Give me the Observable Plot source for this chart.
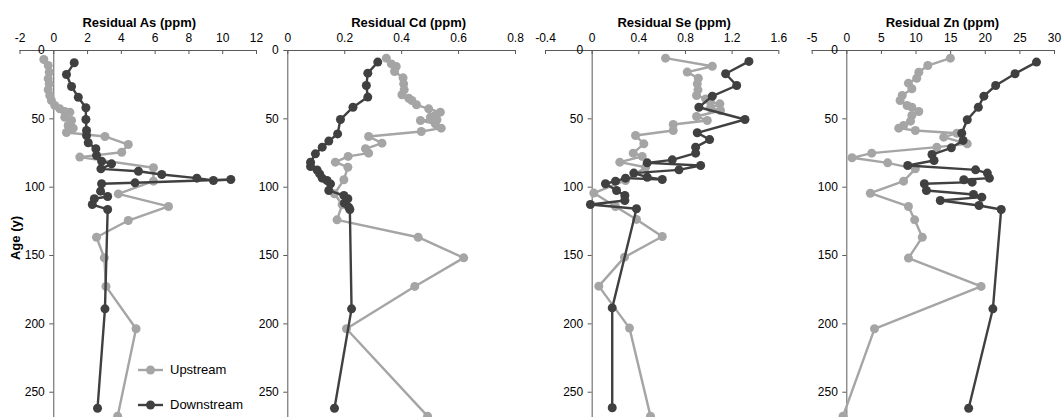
<!DOCTYPE html>
<html><head><meta charset="utf-8">
<script src="https://cdn.jsdelivr.net/npm/d3@7"></script>
<script src="https://cdn.jsdelivr.net/npm/@observablehq/plot@0.6"></script>
<style>
body{margin:0;background:#fff;}
#chart{position:relative;width:1061px;height:417px;overflow:hidden;font-family:"Liberation Sans",Arial,sans-serif;}
#chart svg.panel{position:absolute;left:0;top:0;}
.legend{position:absolute;left:138px;top:352px;font-size:13px;color:#000;}
.legend .row{display:flex;align-items:center;height:35px;}
.legend svg{margin-right:7px;}
</style></head><body><div id="chart"></div>
<script>
// ---- data ----
const ageTicks = [0, 50, 100, 150, 200, 250];
const asTicks = [-2, 0, 2, 4, 6, 8, 10, 12];
const cdTicks = [0, 0.2, 0.4, 0.6, 0.8];
const seTicks = [-0.4, 0, 0.4, 0.8, 1.2, 1.6];
const znTicks = [-5, 0, 5, 10, 15, 20, 25, 30];

const asUpAge = [6.6, 11, 15.9, 20.7, 24.4, 28.7, 32.9, 36.6, 40.2, 42.7, 44.6, 45.1, 48.8, 51.2, 54.9, 56.8, 60, 62.9, 68.8, 74.4, 78, 85.8, 95.6, 104.9, 114.1, 124.4, 136.6, 151.7, 172.6, 203.6, 267.5];
const asUp = [-0.59, -0.33, -0.27, -0.33, -0.27, -0.33, -0.24, -0.14, 0.06, 0.36, 0.65, 0.95, 0.65, 1.05, 0.85, 1.15, 0.75, 3.03, 4.41, 4.02, 1.54, 5.9, 5.9, 3.82, 6.79, 4.41, 2.53, 2.99, 3.09, 4.87, 3.78];
const asDownAge = [9, 17.6, 26.3, 34.2, 41.9, 50.5, 58.5, 62.2, 67.5, 71.9, 76.8, 81, 82.9, 86.6, 88.3, 90.7, 93.4, 95.1, 94.4, 96.8, 97.5, 102.9, 106.8, 108.5, 112.7, 116.3, 189, 261.7];
const asDown = [1.21, 0.75, 1.05, 1.45, 1.9, 1.9, 1.94, 1.94, 2.04, 2.49, 2.53, 2.83, 3.42, 2.79, 5.01, 6.39, 8.47, 9.45, 10.48, 4.81, 2.83, 2.77, 3.19, 2.4, 2.28, 3.19, 3.03, 2.59];

const cdUpAge = [5.6, 9.8, 11.7, 15.4, 20, 24.4, 28.7, 32.4, 34.9, 36.6, 39.7, 42.7, 45.1, 47.5, 48.8, 50.7, 51.2, 53.6, 56.8, 59.3, 62.9, 67.8, 71.9, 75.1, 77.5, 81.7, 85.4, 94.6, 104.8, 112.7, 123.9, 136.6, 151.7, 172.6, 203.6, 267.5];
const cdUp = [0.346, 0.364, 0.381, 0.375, 0.405, 0.407, 0.409, 0.401, 0.425, 0.436, 0.452, 0.495, 0.536, 0.518, 0.501, 0.524, 0.466, 0.518, 0.539, 0.469, 0.284, 0.331, 0.273, 0.284, 0.212, 0.167, 0.211, 0.197, 0.164, 0.191, 0.173, 0.458, 0.618, 0.446, 0.206, 0.491];
const cdDownAge = [8.5, 16.6, 25.6, 34.1, 41.5, 50.5, 61, 66.3, 70.7, 75.6, 81.7, 84.9, 87.4, 90.3, 93.4, 95.1, 97.6, 102.4, 106.1, 108.5, 111.7, 114.6, 116.3, 189, 261.7];
const cdDown = [0.316, 0.281, 0.276, 0.281, 0.229, 0.185, 0.175, 0.144, 0.121, 0.097, 0.08, 0.08, 0.103, 0.112, 0.121, 0.138, 0.15, 0.144, 0.197, 0.211, 0.199, 0.214, 0.218, 0.224, 0.164];

const seUpAge = [5.6, 11.5, 15.8, 20.3, 24.4, 28.8, 32.9, 35.4, 37.8, 39, 41.9, 43.9, 48.3, 51.2, 54.1, 58.5, 62.2, 68.3, 75.1, 77.5, 81.7, 85.4, 95.1, 104.3, 114.1, 123.6, 136.1, 151.2, 172.4, 203.1, 267.5];
const seUp = [0.629, 1.03, 0.815, 0.91, 0.901, 0.907, 0.895, 0.973, 1.015, 1.095, 1.015, 1.1, 0.895, 0.987, 0.695, 0.695, 0.372, 0.443, 0.352, 0.429, 0.237, 0.458, 0.286, 0.014, 0.2, 0.38, 0.601, 0.277, 0.057, 0.32, 0.5];
const seDownAge = [8, 17, 25.6, 33.4, 41.5, 50.5, 60.2, 65.2, 70.7, 75.1, 80, 82.2, 84.1, 87.3, 89.7, 92.7, 94.4, 93.4, 95.6, 97.5, 102.4, 106.1, 109.7, 112.7, 115.8, 188.3, 261.4];
const seDown = [1.344, 1.144, 1.239, 1.03, 0.915, 1.31, 0.901, 1.007, 0.887, 0.887, 0.687, 0.472, 0.93, 0.744, 0.357, 0.472, 0.601, 0.286, 0.2, 0.114, 0.209, 0.28, 0.28, -0.015, 0.38, 0.172, 0.172];

const znUpAge = [5.6, 11, 15.9, 20.3, 23.9, 28, 32.9, 36.6, 40.2, 41.5, 44.6, 47.5, 51.7, 54.9, 56.8, 58.5, 60.5, 63.4, 68.3, 70.7, 75.1, 78.5, 82.2, 86.6, 95.6, 104.4, 114.1, 123.9, 136.6, 151.9, 172.6, 203.6, 267.5];
const znUp = [14.96, 11.7, 10.4, 10.1, 8.9, 9.4, 8, 7.7, 8.7, 9.4, 10.4, 9.4, 9.2, 8.2, 7.5, 9.9, 15.9, 14, 17.4, 13, 3.6, 0.75, 5.9, 9.9, 8.2, 3.4, 8.9, 9.8, 10.9, 8.9, 19.4, 4.0, -0.55];
const znDownAge = [8.5, 17, 25.6, 33.4, 41.5, 50.7, 60.5, 65.8, 71.2, 76.1, 80.5, 84.1, 87.3, 89.7, 93.4, 94.6, 96.3, 97.5, 102.4, 105.3, 107.3, 109.7, 113.4, 116.3, 189, 261.7];
const znDown = [27.4, 24.3, 21.5, 19.8, 19, 17.4, 16.6, 16.8, 15.1, 12.3, 12.6, 8.8, 18.6, 20.3, 20.6, 16.9, 18.1, 11.2, 11.5, 18.3, 19.5, 13.5, 19.1, 22.3, 21.1, 17.6];

const seriesNames = ["Upstream", "Downstream"];

// ---- styles / layout ----
const W = 1061, H = 417;
const upColor = "#a5a5a5", downColor = "#404040", axisColor = "#595959";
const font = "'Liberation Sans', Arial, sans-serif";
const panels = [
  {title: "Residual As (ppm)", ticks: asTicks, upAge: asUpAge, up: asUp, downAge: asDownAge, down: asDown, left: 19.5, right: 256, titleDx: 1, ylabel: true},
  {title: "Residual Cd (ppm)", ticks: cdTicks, upAge: cdUpAge, up: cdUp, downAge: cdDownAge, down: cdDown, left: 287.3, right: 515, titleDx: 7},
  {title: "Residual Se (ppm)", ticks: seTicks, upAge: seUpAge, up: seUp, downAge: seDownAge, down: seDown, left: 545, right: 778.3, titleDx: 12},
  {title: "Residual Zn (ppm)", ticks: znTicks, upAge: znUpAge, up: znUp, downAge: znDownAge, down: znDown, left: 811.7, right: 1054, titleDx: 9}
];

const chart = document.getElementById("chart");
for (const p of panels) {
  const up = p.upAge.map((a, i) => ({age: a, v: p.up[i]}));
  const down = p.downAge.map((a, i) => ({age: a, v: p.down[i]}));
  const marks = [
    Plot.ruleY([0], {stroke: axisColor, strokeWidth: 1}),
    Plot.ruleX([0], {stroke: axisColor, strokeWidth: 1}),
    Plot.ruleX(p.ticks, {x: d => d, y1: () => 0, y2: () => 0, insetBottom: -4, stroke: axisColor}),
    Plot.ruleY(ageTicks, {y: d => d, x1: () => 0, x2: () => 0, insetLeft: -4, stroke: axisColor}),
    Plot.text(p.ticks, {x: d => d, frameAnchor: "top", lineAnchor: "middle", textAnchor: "middle", dy: -12, text: d => String(d), fill: "#000", fontSize: 12}),
    Plot.text(ageTicks, {x: () => 0, y: d => d, text: d => String(d), textAnchor: "end", lineAnchor: "middle", dx: -9, fill: "#000", fontSize: 12}),
    Plot.text([p.title], {frameAnchor: "top", lineAnchor: "middle", textAnchor: "middle", dy: -28, dx: p.titleDx, text: d => d, fontWeight: "bold", fontSize: 13, fill: "#000"}),
    Plot.line(up, {x: "v", y: "age", stroke: upColor, strokeWidth: 2.4}),
    Plot.dot(up, {x: "v", y: "age", r: 4.5, fill: upColor, stroke: "none"}),
    Plot.line(down, {x: "v", y: "age", stroke: downColor, strokeWidth: 2.4}),
    Plot.dot(down, {x: "v", y: "age", r: 4.5, fill: downColor, stroke: "none"})
  ];
  if (p.ylabel) marks.push(Plot.text(["Age (y)"], {frameAnchor: "left", textAnchor: "middle", lineAnchor: "middle", rotate: -90, dx: -4, dy: 4, text: d => d, fontWeight: "bold", fontSize: 13, fill: "#000"}));
  const svg = Plot.plot({
    width: W, height: H,
    marginLeft: p.left, marginRight: W - p.right, marginTop: 50, marginBottom: 0,
    x: {domain: [p.ticks[0], p.ticks[p.ticks.length - 1]], axis: null},
    y: {domain: [0, 268.5], reverse: true, axis: null},
    style: {background: "transparent", fontFamily: font, fontSize: "12px", overflow: "visible"},
    marks
  });
  svg.classList.add("panel");
  svg.style.position = "absolute";
  svg.style.left = "0px";
  svg.style.top = "0px";
  chart.appendChild(svg);
}

// legend
const legend = d3.select(chart).append("div").attr("class", "legend");
[upColor, downColor].forEach((c, i) => {
  const row = legend.append("div").attr("class", "row");
  const s = row.append("svg").attr("width", 25).attr("height", 12);
  s.append("line").attr("x1", 0).attr("x2", 25).attr("y1", 6).attr("y2", 6).attr("stroke", c).attr("stroke-width", 2.4);
  s.append("circle").attr("cx", 12.5).attr("cy", 6).attr("r", 4.5).attr("fill", c);
  row.append("span").text(seriesNames[i]);
});
</script></body></html>
